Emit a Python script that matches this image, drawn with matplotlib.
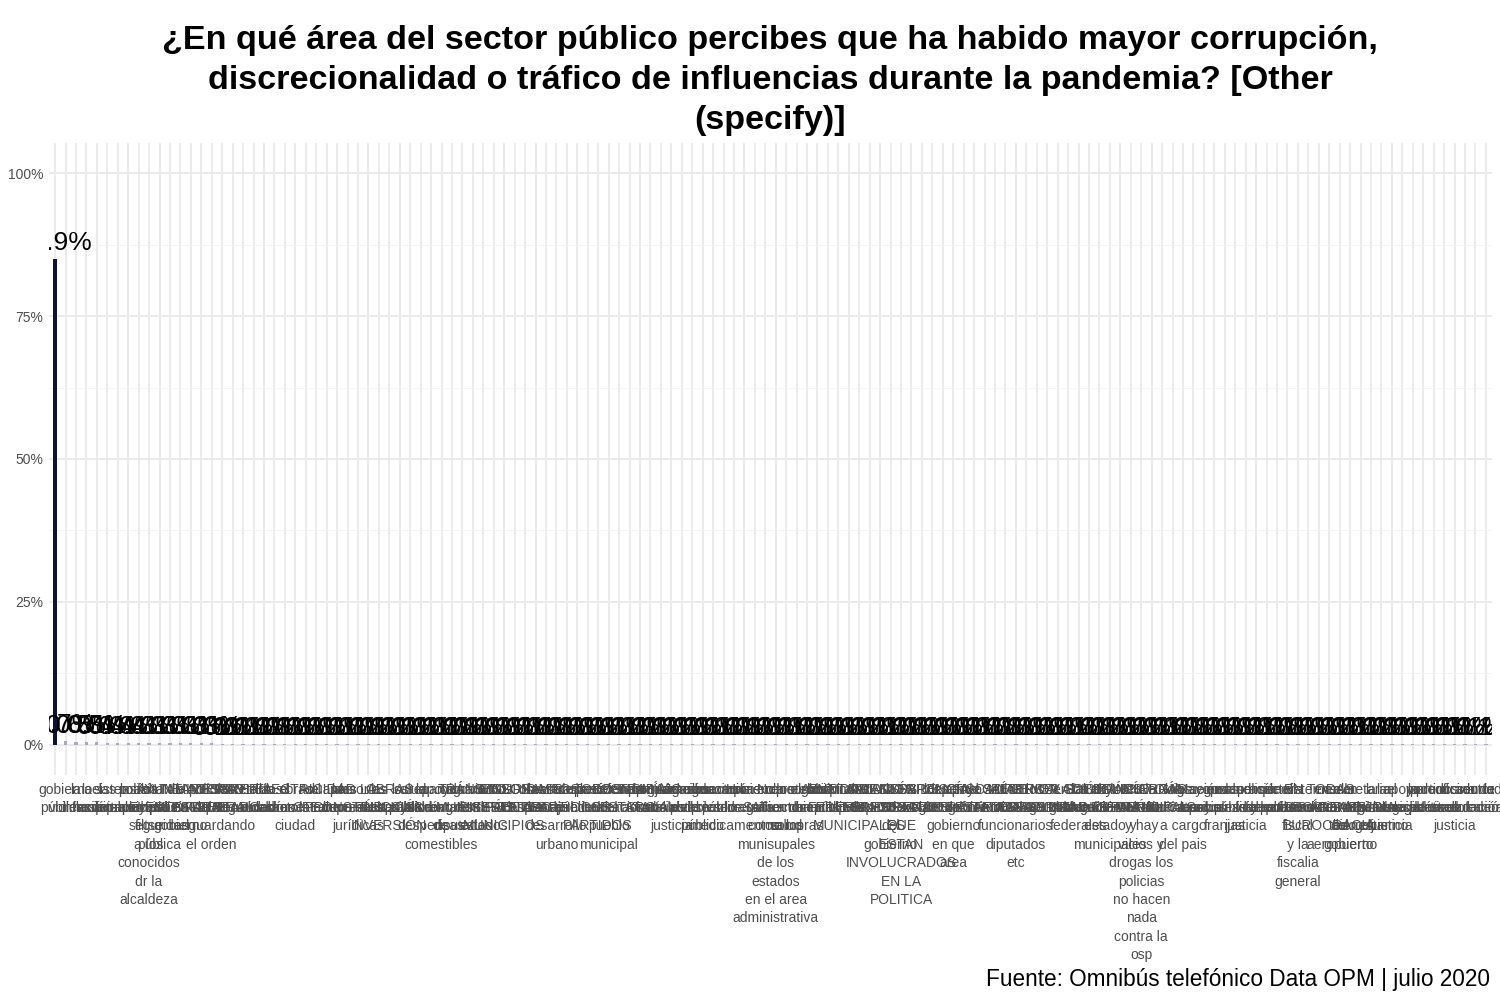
import matplotlib
matplotlib.use("Agg")
import matplotlib.pyplot as plt
from matplotlib.colors import LinearSegmentedColormap

title = ("¿En qué área del sector público percibes que ha habido mayor corrupción,\n"
         "discrecionalidad o tráfico de influencias durante la pandemia? [Other\n"
         "(specify)]")
caption = "Fuente: Omnibús telefónico Data OPM | julio 2020"

categories = [
    "", "gobierno\npúblicas", "la\nviolencia", "la\ninflación", "el\nhospital",
    "las\ncompras", "sistema\nde salud", "las\nlicitaciones", "policía\nmunicipal",
    "los\npermisos\nfiltse\na los\nconocidos\ndr la\nalcaldeza",
    "falta de\nayuda en\nseguridad\npública", "INE\nELECTORAL", "la\npolicía del\ngobierno",
    "AYUNTAMIENTO\nMUNICIPAL", "TAMAULIPAS\nESTATAL", "policías\nque\nresguardando\nel orden",
    "INFONAVIT\nFEDERAL", "TESORERIA\nESTADO", "Secretaría\nSeguridad", "el\nrecaudador",
    "la\nalcaldía", "los\ncobros", "el\nsector", "obras\nen la\nciudad", "ELECTRICIDAD\nCFE",
    "el\nestado", "Aduanas\nPemex", "la\nbeca", "las\nempresas", "personas\nmorales\njurídicas",
    "LA\nCONSTRUCCIÓN", "las\nmultas", "OBRAS\nPÚBLICAS\nINVERSIÓN", "los\napoyos",
    "salud\npública", "la\nalcaldía", "reparto\nde\ndespensas", "apoyos\nalimentarios\nde\ncomestibles",
    "el\ncongreso", "cámara\nde\ndiputados", "TRÁNSITO\nMUNICIPAL", "gobiernos\nde\nestados",
    "IMSS\nISSSTE", "EN LOS\nDIFERENTES\nMUNICIPIOS", "SEGURIDAD\nPÚBLICA", "INFONAVIT\nESTADO",
    "las\ndespensas", "obras de\ndrenaje", "secretaria\nde\ndesarrollo\nurbano", "LOS\nPARTIDOS",
    "transporte\npúblico", "las\nrecetas", "TODOS\nLOS\nPARTIDOS", "presidencia\ndel\npueblo\nmunicipal",
    "vivienda\nhabitacional", "ECONOMÍA\nESTATAL", "economía\nnacional", "TRABAJO\nSOCIAL",
    "programas\nsociales", "procuración\nsocial de\njusticia", "juzgados\ncivil",
    "el agua\npotable", "funcionarios\ndel sector\npúblico", "el sector\nprivado",
    "educación\npública", "compras\nde\nmedicamentos", "la\nsecretaria", "Hacienda\nSAT",
    "No\nsabe", "en los\ngobiernos\ncomo los\nmunisupales\nde los\nestados\nen el area\nadministrativa",
    "en el\nsector\nsalud", "concursos\nde\ncompras", "protección\nambiental", "los\nbancos",
    "gobierno\nmunicipal", "hospitales\npúblicos", "ENTIDADES\nFEDERALES", "AYUNTAMIENTOS\nY\nMUNICIPALES",
    "SALUD\nESTADO", "ALCALDÍA\nMUNICIPAL", "la\ndependencia\ndel\ngobierno",
    "LOS\nPRESIDENTES\nQUE\nESTAN\nINVOLUCRADOS\nEN LA\nPOLITICA", "TRANSPARENCIA\nESTATAL",
    "EN LOS\nESTADOS", "los\nregistros", "POLICÍA\nFEDERAL", "depende\ndel\ngobierno\nen que\narea",
    "apoyo\neconómico", "el\ngobierno", "FISCALÍA\nESTATAL", "CFE\nTARIFAS", "SALUD\nFEDERAL",
    "todos los\nniveles\nfuncionarios\ndiputados\netc", "INTERIOR\nESTADO", "PEMEX\nGASOLINA",
    "LA\nSEGURIDAD", "CIRCULACIÓN\nESTATAL", "en la\ngendarmería", "los\ngobiernos\nfederales",
    "Salud y\nEducación", "GOBIERNO\nMUNICIPAL", "en los\ngobiernos\nestado y\nmunicipales",
    "POLICÍA\nESTATAL", "TRÁNSITO\nFEDERAL", "en la\ncolonia\ny hay\nvicios y\ndrogas los\npolicias\nno hacen\nnada\ncontra la\nosp",
    "ENERGÍA\nMUNICIPAL", "OBRAS\nPÚBLICAS", "los\nsindicatos", "los\nfuncionarios\na cargo\ndel pais",
    "Migración\nlocal", "Mayores\napoyos", "seguros\nsociales", "en las\naduanas y\nfranjas",
    "salud\npública", "procuración\nde\njusticia", "policía\nfederal", "empleo\nfederal",
    "sector\ndeportes", "el\ncatastro", "la\nprocuraduria\nfiscal\ny la\nfiscalia\ngeneral",
    "sistema\nfinanciero", "EN TODAS\nLAS ÁREAS", "en el\nsistema\nBUROCRACIA", "en la\nPROCURADURIA\ndel\naeropuerto",
    "en\nCONSEJO\ntodo el\ngobierno", "secretaria\ndel\nbienestar", "la\nregidora", "la\ndependencia\ngobierno",
    "el\nsistema de\njusticia", "apoyo\nsocial", "la\nlegislatura", "poder\nlegislativo",
    "partidos\npolíticos", "el\nestado", "procuraduría\nde\njusticia", "oficina de\nrecaudación",
    "sector\neducación", "en todo\nfederal",
]

values = [
    84.9, 0.7, 0.6, 0.5, 0.5, 0.4, 0.4, 0.4, 0.4, 0.3, 0.3, 0.3, 0.3, 0.3, 0.3, 0.3,
    0.1, 0.1, 0.1, 0.1, 0.1, 0.1, 0.1, 0.1, 0.1, 0.1, 0.1, 0.1, 0.1, 0.1, 0.1, 0.1,
    0.1, 0.1, 0.1, 0.1, 0.1, 0.1, 0.1, 0.1, 0.1, 0.1, 0.1, 0.1, 0.1, 0.1, 0.1, 0.1,
    0.1, 0.1, 0.1, 0.1, 0.1, 0.1, 0.1, 0.1, 0.1, 0.1, 0.1, 0.1, 0.1, 0.1, 0.1, 0.1,
    0.1, 0.1, 0.1, 0.1, 0.1, 0.1, 0.1, 0.1, 0.1, 0.1, 0.1, 0.1, 0.1, 0.1, 0.1, 0.1,
    0.1, 0.1, 0.1, 0.1, 0.1, 0.1, 0.1, 0.1, 0.1, 0.1, 0.1, 0.1, 0.1, 0.1, 0.1, 0.1,
    0.1, 0.1, 0.1, 0.1, 0.1, 0.1, 0.1, 0.1, 0.1, 0.1, 0.1, 0.1, 0.1, 0.1, 0.1, 0.1,
    0.1, 0.1, 0.1, 0.1, 0.1, 0.1, 0.1, 0.1, 0.1, 0.1, 0.1, 0.1, 0.1, 0.1, 0.1, 0.1,
    0.1, 0.1, 0.1, 0.1, 0.1, 0.1, 0.1, 0.1, 0.1, 0.1, 0.1, 0.1,
]

y_ticks = [0, 25, 50, 75, 100]
y_ticklabels = ["0%", "25%", "50%", "75%", "100%"]

n = min(len(categories), len(values))
categories = categories[:n]
values = values[:n]

FAM = ["Liberation Sans", "DejaVu Sans"]

cmap = LinearSegmentedColormap.from_list("bluegrey", ["#a9a9cb", "#0b1434"])
vmax = max(values)
colors = [cmap(v / vmax) for v in values]

fig = plt.figure(figsize=(15, 10), dpi=100)
ax = fig.add_axes([48.8 / 1500, 225 / 1000, (1492.2 - 48.8) / 1500, (775 - 143) / 1000])

x = list(range(n))
ax.bar(x, values, width=0.3, color=colors, zorder=2)
for xi, v in zip(x, values):
    ax.annotate(f"{v:.1f}%", (xi, v), xytext=(0, 6.5), textcoords="offset points",
                ha="center", va="baseline", fontsize=19, color="black",
                family=FAM, clip_on=True, zorder=3, annotation_clip=True)

ax.set_xlim(-0.6, n - 1 + 0.6)
ax.set_ylim(-5.25, 105.25)
ax.set_yticks(y_ticks)
ax.set_yticklabels(y_ticklabels)
ax.set_yticks([12.5, 37.5, 62.5, 87.5], minor=True)
ax.set_xticks(x)
ax.set_xticklabels(categories, family=FAM, fontsize=10, color="#4d4d4d", linespacing=1.4)
for lab in ax.get_yticklabels():
    lab.set_family(FAM)
    lab.set_fontsize(10)
    lab.set_color("#4d4d4d")
ax.tick_params(axis="both", which="both", length=0)
ax.tick_params(axis="x", pad=5.5)
ax.tick_params(axis="y", pad=4)
ax.grid(True, which="major", color="#ebebeb", lw=1.4, zorder=0)
ax.grid(True, which="minor", axis="y", color="#f2f2f2", lw=0.6, zorder=0)
ax.set_axisbelow(True)
for s in ax.spines.values():
    s.set_visible(False)

fig.text(770 / 1500, 1 - 25 / 1000, title, ha="center", va="top", fontsize=24.6,
         fontweight="bold", family=FAM, linespacing=1.37)
fig.text(1490 / 1500, 1 - 986 / 1000, caption, ha="right", va="baseline", fontsize=16.3,
         family=FAM)

fig.savefig("out.png", dpi=100)
